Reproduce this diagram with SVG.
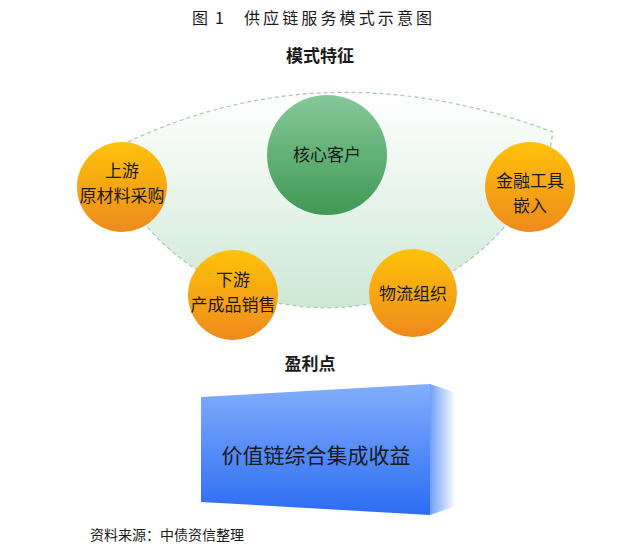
<svg xmlns="http://www.w3.org/2000/svg" width="640" height="555" viewBox="0 0 640 555">
<defs>
<style>
.t{font-family:"Noto Sans CJK SC","Liberation Sans",sans-serif;fill:#1a1a1a}
.n{font-size:17px;text-anchor:middle;fill:#1a1a1a}
.h{font-size:17px;font-weight:bold;text-anchor:middle}
.c{fill:url(#og)}
</style>
<linearGradient id="fan" x1="0" y1="0" x2="0" y2="1">
<stop offset="0" stop-color="#ffffff"/>
<stop offset="1" stop-color="#cde8d5"/>
</linearGradient>
<linearGradient id="gg" x1="0" y1="0" x2="0" y2="1">
<stop offset="0" stop-color="#86c999"/>
<stop offset="1" stop-color="#3f9953"/>
</linearGradient>
<linearGradient id="og" x1="0" y1="0" x2="0" y2="1">
<stop offset="0" stop-color="#ffc20a"/>
<stop offset="1" stop-color="#ee8a1c"/>
</linearGradient>
<linearGradient id="bf" x1="0" y1="0" x2="0" y2="1">
<stop offset="0" stop-color="#82aefc"/>
<stop offset="1" stop-color="#2c6cf2"/>
</linearGradient>
<linearGradient id="bs" x1="0" y1="0" x2="1" y2="0">
<stop offset="0" stop-color="#6f9ff8"/>
<stop offset="1" stop-color="#ffffff"/>
</linearGradient>
</defs>
<text class="t" x="192" y="24" font-size="16">图</text>
<text class="t" x="215" y="24" font-size="16">1</text>
<text class="t" x="244" y="24" font-size="16" textLength="188">供应链服务模式示意图</text>
<text class="t h" x="320" y="62">模式特征</text>
<g id="connectors">
<path d="M128,142 Q327,48 553,132 L550,150 A238,238 0 0 1 128,202 Z" fill="url(#fan)" stroke="#a8c8b0" stroke-width="1.2" stroke-dasharray="4,3"/>
</g>
<g id="core"><circle cx="327" cy="155" r="60" fill="url(#gg)"/><text class="t n" x="327" y="161">核心客户</text></g>
<g id="upstream"><circle class="c" cx="122" cy="187" r="45"/><text class="t n" x="122" y="177">上游</text><text class="t n" x="122" y="202">原材料采购</text></g>
<g id="finance"><circle class="c" cx="530" cy="187" r="45"/><text class="t n" x="530" y="187">金融工具</text><text class="t n" x="530" y="212">嵌入</text></g>
<g id="downstream"><circle class="c" cx="233" cy="295" r="45"/><text class="t n" x="233" y="286">下游</text><text class="t n" x="233" y="311">产成品销售</text></g>
<g id="logistics"><circle class="c" cx="413" cy="293" r="44"/><text class="t n" x="413" y="300">物流组织</text></g>
<text class="t h" x="310" y="370">盈利点</text>
<g id="profit">
<polygon points="430,384 456,393 456,506 430,515" fill="url(#bs)"/>
<polygon points="201,397 430,384 430,515 201,502" fill="url(#bf)"/>
<text class="t" x="316" y="463" font-size="21" text-anchor="middle">价值链综合集成收益</text>
</g>
<text class="t" x="90" y="540" font-size="14">资料来源：中债资信整理</text>
</svg>
